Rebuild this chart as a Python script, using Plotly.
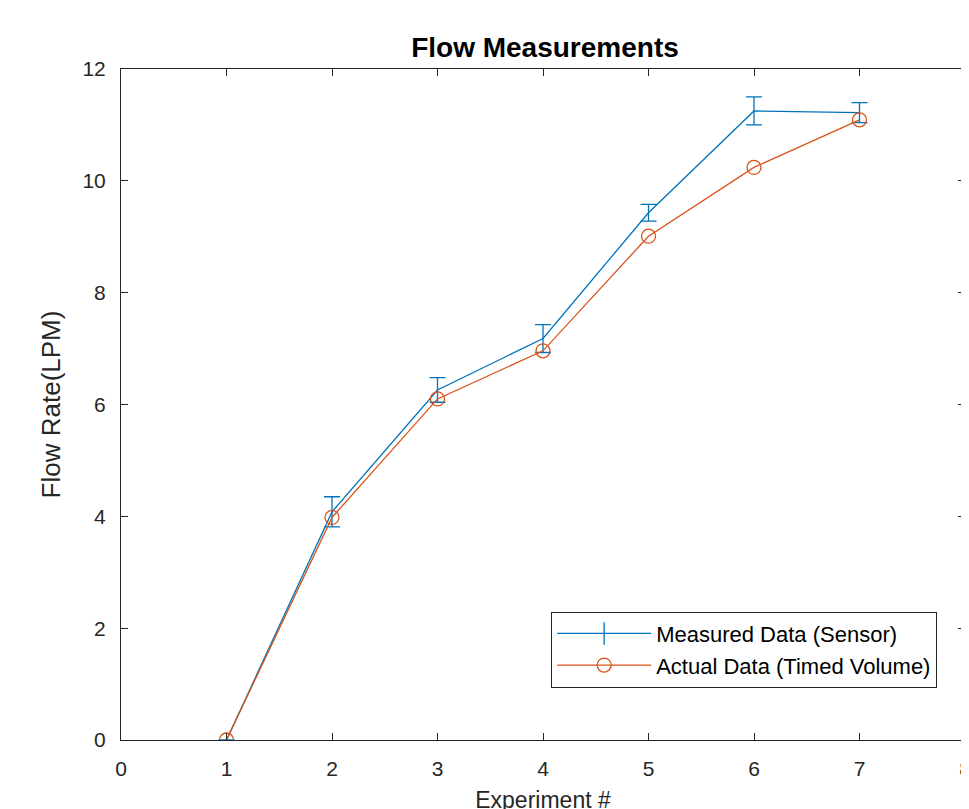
import plotly.graph_objects as go

experiments = [1, 2, 3, 4, 5, 6, 7]
measured = [0.0, 4.08, 6.26, 7.18, 9.43, 11.25, 11.22]
measured_err = [0.0, 0.27, 0.22, 0.25, 0.15, 0.25, 0.18]
actual = [0.0, 3.98, 6.1, 6.96, 9.01, 10.24, 11.09]

blue = "#0072BD"
orange = "#D95319"
FONT = "Liberation Sans, Arial"

fig = go.Figure()
fig.add_trace(go.Scatter(
    x=experiments, y=measured, mode="lines", name="Measured Data (Sensor)",
    line=dict(color=blue, width=1.3), showlegend=False,
    error_y=dict(type="data", array=measured_err, visible=True, color=blue, thickness=1.3, width=8),
))
# legend-only entry mimicking the errorbar symbol
fig.add_trace(go.Scatter(
    x=[None], y=[None], mode="lines+markers", name="Measured Data (Sensor)",
    line=dict(color=blue, width=1.3),
    marker=dict(symbol="line-ns-open", size=18, color=blue, line=dict(width=1.3, color=blue)),
))
fig.add_trace(go.Scatter(
    x=experiments, y=actual, mode="lines+markers", name="Actual Data (Timed Volume)",
    line=dict(color=orange, width=1.3),
    marker=dict(symbol="circle-open", size=14, color=orange, line=dict(width=1.3)),
))

axis_common = dict(
    showgrid=False, zeroline=False, showline=True, linecolor="#262626", linewidth=1,
    mirror="ticks", ticks="inside", ticklen=7, tickcolor="#262626",
    tickfont=dict(family=FONT, size=21, color="#262626"),
)
fig.update_xaxes(range=[0, 8], tick0=0, dtick=1, ticklabelstandoff=10, **axis_common,
                 title=dict(text="Experiment #", font=dict(family=FONT, size=23, color="#262626"), standoff=12))
fig.update_yaxes(range=[0, 12], tick0=0, dtick=2, ticklabelstandoff=10, **axis_common,
                 title=dict(text="Flow Rate(LPM)", font=dict(family=FONT, size=26, color="#262626"), standoff=14))

fig.update_layout(
    width=969, height=809,
    margin=dict(l=113, r=6, t=61, b=77),
    paper_bgcolor="white", plot_bgcolor="white",
    title=dict(text="<b>Flow Measurements</b>", x=537 / 969, xanchor="center",
               y=1 - 39 / 809, yanchor="middle",
               font=dict(family=FONT, size=28, color="black")),
    legend=dict(x=0.967, y=0.078, xanchor="right", yanchor="bottom",
                bordercolor="#262626", borderwidth=1, bgcolor="white",
                font=dict(family=FONT, size=22, color="black"),
                tracegroupgap=0, itemwidth=94),
    showlegend=True,
)

fig.write_html("out.html")
